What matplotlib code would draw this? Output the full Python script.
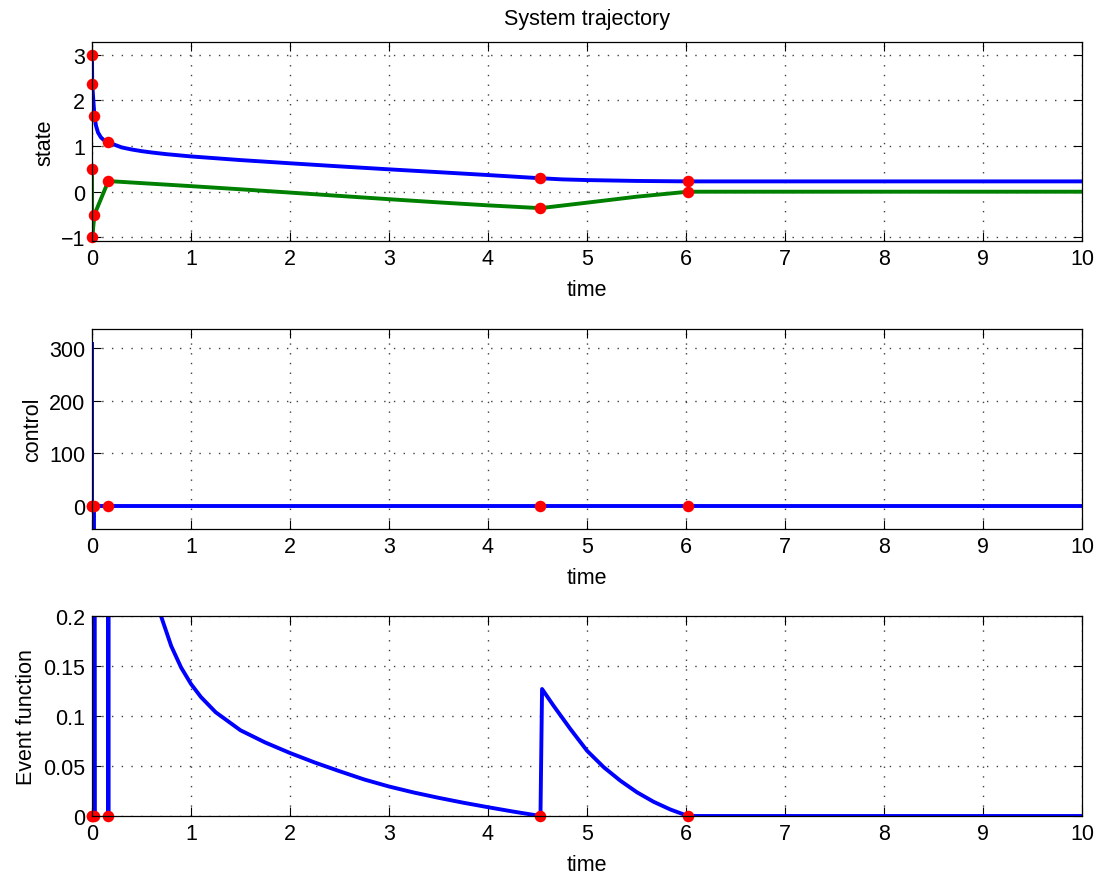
import matplotlib
matplotlib.use("Agg")
import matplotlib.pyplot as plt

plt.rcParams["font.family"] = ["Liberation Sans", "DejaVu Sans"]

BLUE = (0.0, 0.0, 1.0)
GREEN = (0.0, 0.5, 0.0)
RED = (1.0, 0.0, 0.0)

# event instants (red dots) and the states there
event_t = [0.0, 0.002, 0.025, 0.165, 4.53, 6.02]
event_x1 = [3.0, 2.36, 1.65, 1.08, 0.295, 0.226]
event_x2 = [0.5, -1.0, -0.5, 0.233, -0.36, 0.0]
event_u = [0.0, 0.0, 0.0, 0.0, 0.0, 0.0]
event_g = [0.0, 0.0, 0.0, 0.0, 0.0, 0.0]

# state 1 (blue)
t_x1 = [0.0, 0.002, 0.025, 0.04, 0.06, 0.09, 0.12, 0.165, 0.3, 0.4, 0.5, 0.6,
        0.75, 1.0, 1.5, 2.0, 2.5, 3.0, 3.5, 4.0, 4.53, 4.75, 5.0, 5.5, 6.02,
        10.0]
x1 = [3.0, 2.36, 1.65, 1.45, 1.30, 1.19, 1.13, 1.08, 0.97, 0.925, 0.889, 0.86,
      0.823, 0.773, 0.693, 0.623, 0.555, 0.49, 0.428, 0.365, 0.295, 0.27,
      0.255, 0.236, 0.226, 0.226]

# state 2 (green)
t_x2 = [0.0, 0.002, 0.025, 0.165, 1.0, 1.5, 2.0, 2.5, 3.0, 3.5, 4.0, 4.53,
        5.0, 5.5, 6.02, 10.0]
x2 = [0.5, -1.0, -0.5, 0.233, 0.122, 0.053, -0.019, -0.092, -0.164, -0.234,
      -0.299, -0.36, -0.24, -0.11, 0.0, 0.0]

# control
t_u = [0.0, 0.002, 0.002, 0.025, 0.025, 10.0]
u = [308.0, 308.0, -150.0, -150.0, 0.0, 0.0]

# event function
t_g = [0.0, 0.0, 0.002, 0.002, 0.025, 0.025, 0.164, 0.165, 0.165, 0.3, 0.45,
       0.6, 0.69, 0.8, 0.9, 1.0, 1.1, 1.25, 1.5, 1.75, 2.0, 2.25, 2.5, 2.75,
       3.0, 3.25, 3.5, 3.75, 4.0, 4.25, 4.53,
       4.53, 4.546, 4.664, 4.832, 5.0, 5.17, 5.337, 5.505, 5.673, 5.842, 6.02,
       10.0]
g = [0.0, 3.0, 0.0, 3.0, 0.0, 3.0, 3.0, 0.0, 1.0, 0.45, 0.30,
     0.23, 0.202, 0.170, 0.1485, 0.132, 0.119, 0.1037, 0.0857, 0.0735, 0.063,
     0.0535, 0.0448, 0.0365, 0.0295, 0.0235, 0.0182, 0.0133, 0.0088, 0.0045,
     0.0,
     0.0, 0.127, 0.110, 0.087, 0.0653, 0.0487, 0.0353, 0.0237, 0.0142, 0.0065,
     0.0, 0.0]

x_ticks = list(range(0, 11))
state_ticks = [-1, 0, 1, 2, 3]
control_ticks = [0, 100, 200, 300]
event_ticks = [0, 0.05, 0.1, 0.15, 0.2]
event_tick_labels = ["0", "0.05", "0.1", "0.15", "0.2"]

FS = 15.5
LW = 2.8
MS = 8.3

fig = plt.figure(figsize=(11.02, 8.79), dpi=100)
W, H = 1102.0, 879.0


def make_ax(top, bottom):
    left, right = 92.0, 1082.0
    return fig.add_axes([left / W, 1 - bottom / H, (right - left) / W,
                         (bottom - top) / H])


def style(ax, yticks, ylabels=None):
    ax.set_xlim(0, 10)
    ax.set_xticks(x_ticks)
    ax.set_xticklabels([str(v) for v in x_ticks])
    ax.set_yticks(yticks)
    if ylabels is not None:
        ax.set_yticklabels(ylabels)
    ax.tick_params(direction="in", top=True, right=True, length=6.5,
                   width=0.8, labelsize=FS, pad=5)
    ax.grid(True, color="0.25", linestyle=(0, (1, 6)), linewidth=1.0)
    for s in ax.spines.values():
        s.set_linewidth(0.9)
    ax.set_xlabel("time", fontsize=FS, labelpad=7)


ax1 = make_ax(43, 242)
ax1.plot(t_x1, x1, color=BLUE, lw=LW)
ax1.plot(t_x2, x2, color=GREEN, lw=LW)
ax1.plot(event_t, event_x1, "o", color=RED, ms=MS, mec="none", clip_on=False)
ax1.plot(event_t, event_x2, "o", color=RED, ms=MS, mec="none", clip_on=False)
ax1.set_ylim(-1.08, 3.28)
style(ax1, state_ticks)
ax1.set_ylabel("state", fontsize=FS)
ax1.set_title("System trajectory", fontsize=FS, pad=13)

ax2 = make_ax(330, 530)
ax2.plot(t_u, u, color=BLUE, lw=LW)
ax2.plot(event_t, event_u, "o", color=RED, ms=MS, mec="none", clip_on=False)
ax2.set_ylim(-44, 337)
style(ax2, control_ticks)
ax2.set_ylabel("control", fontsize=FS)

ax3 = make_ax(617, 817)
ax3.plot(t_g, g, color=BLUE, lw=LW)
ax3.plot(event_t, event_g, "o", color=RED, ms=MS, mec="none", clip_on=False)
ax3.set_ylim(0, 0.2)
style(ax3, event_ticks, event_tick_labels)
ax3.set_ylabel("Event function", fontsize=FS)

fig.savefig("out.png", dpi=100, facecolor="white")
